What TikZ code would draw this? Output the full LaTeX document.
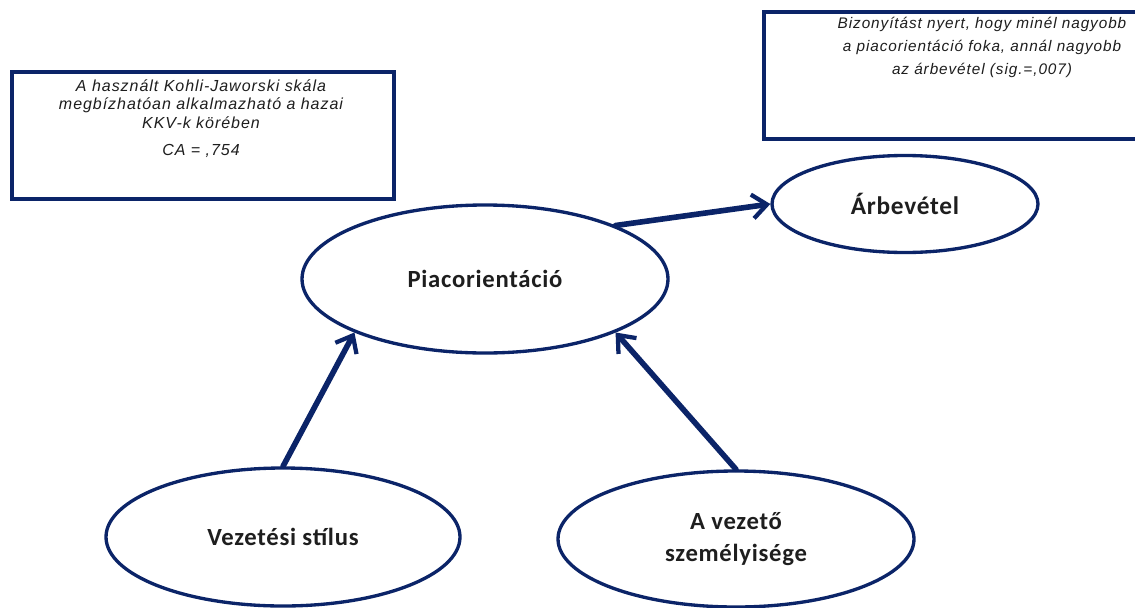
\documentclass[tikz,border=0pt]{standalone}
\usepackage{fontspec}
\setmainfont{Carlito}
\newfontfamily\notefont[LetterSpace=6]{Liberation Sans}
\newfontfamily\labelfont[LetterSpace=3]{Carlito}
\usetikzlibrary{shapes.geometric,arrows.meta}
\definecolor{navy}{HTML}{0B2468}
\definecolor{ink}{HTML}{1E1E1E}
\tikzset{
  x=0.75pt, y=-0.75pt,
  oval/.style={ellipse, draw=navy, line width=2.5pt, fill=white, inner sep=0pt,
    font=\labelfont\bfseries\fontsize{18.5}{24.5}\selectfont, text=ink, align=center},
  notebox/.style={draw=navy, line width=3pt, fill=white, inner sep=0pt, anchor=north west},
  notetext/.style={text=ink, align=center, anchor=north, inner sep=0pt},
  link/.style={draw=navy, line width=4.2pt, line cap=round,
    -{Straight Barb[length=11pt, width=18pt, line width=3.2pt]}}
}
\begin{document}
\begin{tikzpicture}
\useasboundingbox (0,0) rectangle (1135,607);
% comment boxes
\node[notebox, minimum width=382*0.75pt, minimum height=127*0.75pt] (leftbox) at (10,70) {};
\node[notetext, font=\notefont\itshape\fontsize{12}{14}\selectfont] (lefttext) at (201,79)
  {A használt Kohli-Jaworski skála\\megbízhatóan alkalmazható a hazai\\KKV-k körében\\[6pt]CA = ,754};
\node[notebox, minimum width=440*0.75pt, minimum height=127*0.75pt] (rightbox) at (762,10) {};
\node[notetext, font=\notefont\itshape\fontsize{11.5}{17.2}\selectfont] (righttext) at (982,17)
  {Bizonyítást nyert, hogy minél nagyobb\\a piacorientáció foka, annál nagyobb\\az árbevétel (sig.=,007)};
% concepts
\node[oval, minimum width=366*0.75pt, minimum height=148*0.75pt] (pia) at (485,279) {Piacorientáció};
\node[oval, minimum width=266*0.75pt, minimum height=97*0.75pt,
  font=\labelfont\bfseries\fontsize{19}{23}\selectfont] (arb) at (905,204) {Árbevétel};
\node[oval, minimum width=354*0.75pt, minimum height=138*0.75pt] (vez) at (283,537) {Vezetési stílus};
\node[oval, minimum width=356*0.75pt, minimum height=136*0.75pt] (sze) at (736,539) {A vezető\\személyisége};
% influences
\draw[link] (pia.north east) -- (arb.west);
\draw[link] (vez.north) -- (pia.south west);
\draw[link] (sze.north) -- (pia.south east);
\end{tikzpicture}
\end{document}
